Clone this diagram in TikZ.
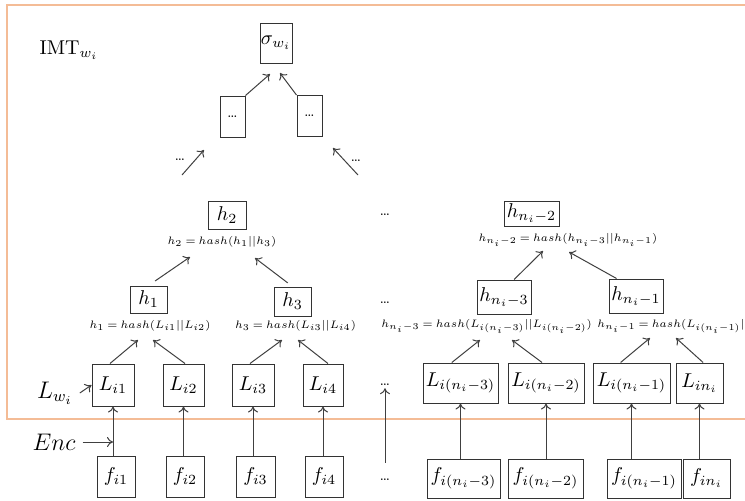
\documentclass[tikz,border=0pt]{standalone}
\usepackage{amsmath,amssymb}
\usepackage{xcolor}
\usepackage{tikz}
\usetikzlibrary{positioning,arrows.meta,calc}

\definecolor{frameorange}{RGB}{244,188,150}
\newcommand{\hasheq}[1]{\scalebox{0.9}{$\thickmuskip=4mu #1$}}

\begin{document}
\begin{tikzpicture}[x=0.5pt, y=-0.5pt,
  box/.style={draw=black!80, line width=0.5pt, inner sep=0pt},
  eqn/.style={font=\fontsize{6}{7}\selectfont, inner sep=1pt},
  dots/.style={font=\scriptsize, inner sep=1pt},
  arr/.style={draw=black!75, line width=0.5pt, -{To[length=3pt,width=5pt]}}]
  \useasboundingbox (0,0) rectangle (745,500);

  % Frame of the tree
  \draw[frameorange, line width=1pt] (745,5) -- (7,5) -- (7,419) -- (745,419);
  \node[font=\normalsize] (imt) at (69,50) {IMT$_{w_i}$};

  % Root and the level below it
  \node[box, minimum width=16pt, minimum height=20pt] (sig) at (276,43) {$\sigma_{w_i}$};
  \node[box, minimum width=12.5pt, minimum height=20.5pt, font=\scriptsize] (d1) at (232.5,116.5) {\dots};
  \node[box, minimum width=12.5pt, minimum height=20.5pt, font=\scriptsize] (d2) at (309.5,116) {\dots};
  \coordinate (sigin1) at (270,74);
  \coordinate (sigin2) at (280,73);
  \draw[arr] (d1.north east) -- (sigin1);
  \draw[arr] (d2.north west) -- (sigin2);

  % Open branches
  \node[dots] (dotsUL) at (180,160) {\dots};
  \node[dots] (dotsUR) at (356,161) {\dots};
  \coordinate (upL0) at (182,175);
  \coordinate (upL1) at (204,150);
  \coordinate (upR0) at (358,175);
  \coordinate (upR1) at (333,148);
  \draw[arr] (upL0) -- (upL1);
  \draw[arr] (upR0) -- (upR1);

  % Middle column
  \node[dots] (dotsM1) at (385,215) {\dots};
  \node[dots] (dotsM2) at (385,303) {\dots};
  \node[dots] (dotsM3) at (385,385) {\dots};
  \node[dots] (dotsM4) at (385,480) {\dots};
  \draw[arr, shorten <=7pt] (dotsM4) -- (dotsM3);

  % Left subtree
  \node[box, minimum width=19pt, minimum height=14pt] (h2) at (227,215) {$h_2$};
  \node[eqn] (h2eq) at (222,242) {\hasheq{h_2 = hash(h_1||h_3)}};
  \node[box, minimum width=18.5pt, minimum height=13.5pt] (h1) at (148.5,299.5) {$h_1$};
  \node[eqn] (h1eq) at (150,326) {\hasheq{h_1 = hash(L_{i1}||L_{i2})}};
  \node[box, minimum width=18.5pt, minimum height=14.5pt] (h3) at (292.5,301.5) {$h_3$};
  \node[eqn] (h3eq) at (295.5,326) {\hasheq{h_3 = hash(L_{i3}||L_{i4})}};
  \coordinate (h2in1) at (190,257);
  \coordinate (h2in3) at (255,258);
  \draw[arr, shorten <=4pt] (h1.north) -- (h2in1);
  \draw[arr, shorten <=3pt] (h3.north) -- (h2in3);

  % Right subtree
  \node[box, minimum width=27.5pt, minimum height=12.5pt] (hn2) at (531.5,213.5) {$h_{n_i-2}$};
  \node[eqn] (hn2eq) at (568,240) {\hasheq{h_{n_i-2} = hash(h_{n_i-3}||h_{n_i-1})}};
  \node[box, minimum width=27pt, minimum height=17pt] (hn3) at (504,297) {$h_{n_i-3}$};
  \node[eqn, anchor=west] (hn3eq) at (379,326) {\hasheq{h_{n_i-3} = hash(L_{i(n_i-3)}||L_{i(n_i-2)})}};
  \node[box, minimum width=27pt, minimum height=17pt] (hn1) at (636,296) {$h_{n_i-1}$};
  \node[eqn, anchor=west] (hn1eq) at (595,326) {\hasheq{h_{n_i-1} = hash(L_{i(n_i-1)}||L_{in_i})}};
  \coordinate (hn2in3) at (543,251);
  \coordinate (hn2in1) at (569,252);
  \draw[arr] (hn3.60) -- (hn2in3);
  \draw[arr] (hn1.138) -- (hn2in1);

  % Leaves L
  \node[font=\large] (lw) at (55,393) {$L_{w_i}$};
  \node[box, minimum width=21pt, minimum height=21pt] (Li1) at (113,385) {$L_{i1}$};
  \node[box, minimum width=20.5pt, minimum height=21pt] (Li2) at (183.5,385) {$L_{i2}$};
  \node[box, minimum width=21pt, minimum height=21pt] (Li3) at (253,385) {$L_{i3}$};
  \node[box, minimum width=20pt, minimum height=21pt] (Li4) at (323,385) {$L_{i4}$};
  \node[box, minimum width=37.5pt, minimum height=20pt] (Ln3) at (460.5,383) {$L_{i(n_i-3)}$};
  \node[box, minimum width=38pt, minimum height=20pt] (Ln2) at (546,383) {$L_{i(n_i-2)}$};
  \node[box, minimum width=38.5pt, minimum height=20pt] (Ln1) at (631.5,383) {$L_{i(n_i-1)}$};
  \node[box, minimum width=23.5pt, minimum height=20pt] (Lni) at (699.5,383) {$L_{in_i}$};
  \draw[arr] (lw.east) -- (Li1.west);

  \coordinate (h1in1) at (138,340);
  \coordinate (h1in2) at (153,340);
  \coordinate (h3in3) at (282,340);
  \coordinate (h3in4) at (298,340);
  \coordinate (hn3in3) at (480,340);
  \coordinate (hn3in2) at (512,340);
  \coordinate (hn1in1) at (650,338);
  \coordinate (hn1inn) at (676,338);
  \draw[arr] (Li1.98) -- (h1in1);
  \draw[arr] (Li2.86) -- (h1in2);
  \draw[arr] (Li3.98) -- (h3in3);
  \draw[arr] (Li4.77) -- (h3in4);
  \draw[arr] (Ln3.113) -- (hn3in3);
  \draw[arr] (Ln2.101) -- (hn3in2);
  \draw[arr] (Ln1.118) -- (hn1in1);
  \draw[arr] (Lni.80) -- (hn1inn);

  % Files f
  \node[font=\large] (enc) at (54,442) {$Enc$};
  \node[box, minimum width=19pt, minimum height=20.5pt] (fi1) at (116,476.5) {$f_{i1}$};
  \node[box, minimum width=19pt, minimum height=20.5pt] (fi2) at (185,476.5) {$f_{i2}$};
  \node[box, minimum width=19.5pt, minimum height=20.5pt] (fi3) at (255.5,476.5) {$f_{i3}$};
  \node[box, minimum width=19pt, minimum height=20.5pt] (fi4) at (324,476.5) {$f_{i4}$};
  \node[box, minimum width=36.5pt, minimum height=19.5pt] (fn3) at (463.5,478.5) {$f_{i(n_i-3)}$};
  \node[box, minimum width=37.5pt, minimum height=19.5pt] (fn2) at (545.5,478.5) {$f_{i(n_i-2)}$};
  \node[box, minimum width=37pt, minimum height=19.5pt] (fn1) at (644,478.5) {$f_{i(n_i-1)}$};
  \node[box, minimum width=23.5pt, minimum height=19.5pt] (fni) at (706.5,478.5) {$f_{in_i}$};

  \foreach \f/\l in {fi1/Li1, fi2/Li2, fi3/Li3, fi4/Li4, fn3/Ln3, fn2/Ln2, fn1/Ln1, fni/Lni}
    \draw[arr] (\f.north -| \l) -- (\l.south);
  \coordinate (encto) at (enc.east -| Li1);
  \draw[arr] (enc.east) -- (encto);

\end{tikzpicture}
\end{document}
